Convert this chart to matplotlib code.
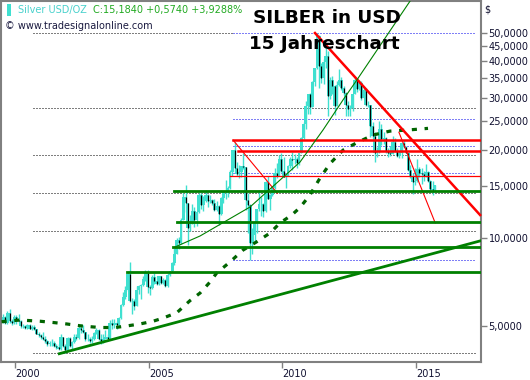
import numpy as np
import matplotlib
matplotlib.use("Agg")
import matplotlib.pyplot as plt
from matplotlib.patches import Rectangle

# ---------------- data (monthly candles, Jul 1999 .. Sep 2015) ----------------
start_year, start_month = 1999, 7
opens = [5.20,5.38,5.15,5.55,5.22,5.12,
 5.40,5.25,5.20,5.02,5.00,4.95,5.05,4.92,4.98,4.90,4.72,4.68,
 4.60,4.55,4.45,4.35,4.38,4.40,4.30,4.25,4.20,4.60,4.30,4.15,
 4.58,4.30,4.42,4.60,4.58,4.95,4.85,4.78,4.55,4.55,4.45,4.55,
 4.75,4.85,4.55,4.45,4.55,4.60,4.55,5.15,5.05,5.15,5.05,5.35,
 5.90,6.30,6.65,7.55,6.10,6.10,5.85,6.65,6.85,6.90,7.25,7.60,
 6.80,6.75,7.35,7.15,6.95,7.40,7.05,7.20,6.85,7.50,7.70,8.20,
 8.85,9.85,9.60,11.55,13.80,13.15,10.85,11.20,12.40,11.50,12.25,13.95,
 12.90,13.40,14.05,13.40,13.45,13.15,12.45,12.80,12.10,13.70,14.30,14.35,
 14.80,16.80,19.90,17.25,16.50,16.80,17.55,17.40,13.45,12.95,9.60,10.20,
 11.30,12.55,13.05,13.10,12.40,15.55,13.60,13.95,14.85,16.65,16.30,18.55,
 16.95,16.15,16.30,17.55,18.60,18.40,18.60,17.95,19.45,21.85,24.35,28.05,
 30.85,27.95,33.95,37.85,48.60,38.45,35.10,39.60,41.50,30.40,34.50,32.80,
 28.18,33.25,34.60,32.40,31.20,28.35,27.40,27.70,30.95,34.60,32.20,33.60,
 29.95,31.80,28.35,28.30,24.00,22.25,19.45,19.70,23.50,21.70,21.90,19.80,
 19.40,19.30,21.25,19.80,19.00,19.40,21.00,20.40,19.45,17.05,16.20,15.50,
 15.65,17.20,16.60,16.55,16.30,16.75,15.60,14.70,14.60]
highs = [5.50,5.42,5.65,5.75,5.32,5.45,
 5.45,5.50,5.25,5.10,5.05,5.10,5.10,5.05,5.05,4.92,4.80,4.70,
 4.80,4.65,4.50,4.45,4.55,4.45,4.35,4.35,4.70,4.62,4.35,4.62,
 4.62,4.48,4.70,4.70,5.00,5.10,5.05,4.80,4.70,4.60,4.65,4.80,
 4.95,4.90,4.70,4.70,4.85,4.70,5.25,5.30,5.30,5.20,5.40,5.95,
 6.55,6.85,7.70,8.30,6.25,6.20,6.85,6.90,6.95,7.40,7.80,7.80,
 6.90,7.50,7.60,7.40,7.40,7.45,7.30,7.25,7.60,7.75,8.30,9.25,
 10.00,10.10,11.70,14.20,15.20,13.20,11.95,13.10,12.75,12.35,14.20,14.25,
 13.90,14.60,14.10,14.05,13.60,13.60,13.40,12.90,13.80,14.50,15.80,15.00,
 17.00,20.00,21.25,18.20,17.70,17.60,19.45,17.50,14.20,13.05,10.80,11.35,
 12.55,14.60,13.80,13.20,15.60,16.20,14.10,15.00,17.30,18.00,19.15,19.40,
 18.85,16.60,17.70,18.85,19.60,19.30,18.90,19.45,22.10,24.85,29.30,31.00,
 31.20,34.30,38.00,49.80,49.00,39.40,40.75,44.25,43.25,35.40,35.70,33.10,
 34.10,37.45,35.40,33.00,31.40,29.30,28.40,31.00,35.40,35.00,34.60,34.20,
 32.45,32.40,29.20,28.40,24.90,23.00,20.40,25.10,24.50,22.90,22.00,20.30,
 20.50,22.20,21.90,20.30,19.80,21.20,21.60,20.50,19.50,17.70,16.70,17.30,
 18.50,17.50,17.30,16.90,17.80,16.85,15.70,15.60,15.20]
lows = [5.15,5.10,5.10,5.15,5.05,5.10,
 5.10,5.15,4.95,4.95,4.90,4.90,4.90,4.85,4.85,4.70,4.60,4.55,
 4.50,4.40,4.30,4.30,4.30,4.25,4.20,4.15,4.15,4.25,4.05,4.15,
 4.25,4.20,4.40,4.50,4.55,4.75,4.75,4.45,4.45,4.40,4.40,4.50,
 4.70,4.50,4.35,4.40,4.55,4.50,4.55,4.90,4.95,4.90,5.00,5.30,
 5.85,6.20,6.60,6.05,5.50,5.70,5.85,6.45,6.20,6.85,7.15,6.50,
 6.40,6.70,7.00,6.90,6.90,6.95,6.95,6.80,6.80,7.40,7.65,8.10,
 8.80,9.20,9.55,11.50,12.30,9.50,10.60,11.15,10.90,11.00,12.20,12.55,
 12.35,13.30,12.70,13.20,12.90,12.40,12.40,11.10,12.00,13.20,13.60,13.80,
 14.70,16.30,16.80,16.30,16.05,16.10,17.20,12.50,10.40,8.40,8.80,9.60,
 10.40,12.40,11.90,11.75,12.30,13.60,12.45,13.90,14.70,16.00,16.20,16.80,
 16.10,14.80,16.25,17.35,17.05,17.90,17.35,17.70,19.40,21.70,23.50,26.40,
 26.40,27.80,33.00,37.70,32.30,33.70,33.40,37.90,26.10,29.60,30.90,26.20,
 28.10,32.90,31.90,30.60,26.10,26.10,26.10,27.00,30.90,31.50,31.80,29.50,
 29.90,28.20,28.00,22.00,21.80,18.20,18.80,19.50,20.70,20.80,19.40,18.80,
 19.00,19.25,19.60,18.90,18.70,18.70,20.30,19.40,16.95,15.95,14.15,15.20,
 15.50,16.10,15.30,15.60,16.10,15.50,14.30,13.95,14.40]
closes = opens[1:] + [15.18]

# moving average (dashed)
ma_years = [1999.49,2000.18,2000.93,2001.41,2001.93,2002.49,2003.17,2003.74,2004.17,
            2004.67,2005.16,2005.53,2006.05,2006.54,2006.92,2007.29,2007.54,2008.04,
            2008.53,2009.04,2009.54,2009.91,2010.35,2010.66,2011.03,2011.41,2011.78,
            2012.27,2012.79,2013.39,2014.03,2014.70,2015.45]
ma_vals = [5.19,5.26,5.21,5.16,5.10,5.02,4.96,4.96,5.02,5.10,5.21,5.34,5.57,6.12,6.50,
           7.08,7.60,8.29,9.10,9.71,10.40,11.25,11.97,12.70,14.0,16.0,17.9,19.9,21.1,
           22.4,23.1,23.3,23.6]

# horizontal levels
black_dotted = [49.8, 27.7, 19.15, 14.2, 10.56, 4.06]
black_dotted_end = [2008.16, 2017.2, 2017.2, 2017.2, 2017.2, 2017.2]
blue_dotted = [49.8, 25.4, 20.6, 16.6, 8.42]
red_levels = [21.5, 19.7, 16.3]
red_level_start = [2008.16, 2008.33, 2008.04]
red_level_width = [2.0, 2.0, 1.0]
green_levels = [14.45, 11.36, 9.34, 7.68]
green_level_start = [2005.95, 2006.04, 2005.92, 2004.18]

# trend lines
red_trend_thick = (2011.22, 49.8, 2017.40, 11.97)
red_trend_thin = [(2008.16, 21.5, 2009.81, 14.2), (2014.36, 22.9, 2015.72, 11.25)]
green_trend_thick = (2001.65, 4.04, 2017.43, 9.79)
green_thin_years = [2005.98, 2006.92, 2008.79, 2010.66, 2011.52, 2012.27, 2012.79, 2014.78]
green_thin_vals = [9.32, 10.16, 12.75, 18.13, 23.3, 29.5, 34.5, 64.0]

yticks = [5, 10, 15, 20, 25, 30, 35, 40, 45, 50]
xticks = [2000, 2005, 2010, 2015]

# ---------------- drawing ----------------
W, H = 530, 380
fig = plt.figure(figsize=(W / 100, H / 100), dpi=100)
ax = fig.add_axes([1 / W, 18 / H, 480 / W, 361 / H])
ax.set_yscale('log')
ax.set_xlim(1999.469, 2017.433)
ax.set_ylim(3.786, 64.0)

TURQ = '#40E0D0'
n = len(closes)
dates = [start_year + (start_month - 1 + i + 0.5) / 12.0 for i in range(n)]
bw = 0.105
for d, o, h, l, c in zip(dates, opens, highs, lows, closes):
    ax.plot([d, d], [l, h], color=TURQ, lw=1.0, solid_capstyle='butt', zorder=2)
    lo, hi = min(o, c), max(o, c)
    ax.add_patch(Rectangle((d - bw / 2, lo), bw, hi - lo, facecolor=TURQ,
                           edgecolor='none', zorder=2))
    if c < o:
        ax.plot([d, d], [c, o], color='black', lw=0.85, solid_capstyle='butt', zorder=3)

# dotted levels
for v, xe in zip(black_dotted, black_dotted_end):
    ax.plot([2000.67, xe], [v, v], color='black', lw=0.72, dashes=(1, 2), zorder=1)
for v in blue_dotted:
    ax.plot([2008.16, 2017.2], [v, v], color='#0000EE', lw=0.72, dashes=(1, 2), zorder=1)

# moving average
ax.plot(ma_years, ma_vals, color='#006400', lw=2.3, dashes=(1.6, 2.4), zorder=4)

# red levels and trends
for v, xs, w in zip(red_levels, red_level_start, red_level_width):
    ax.plot([xs, 2017.43], [v, v], color='#FF0000', lw=w * 0.9, zorder=5)
x0, y0, x1, y1 = red_trend_thick
ax.plot([x0, x1], [y0, y1], color='#FF0000', lw=1.8, zorder=5, clip_on=False)
for x0, y0, x1, y1 in red_trend_thin:
    ax.plot([x0, x1], [y0, y1], color='#FF0000', lw=0.8, zorder=5)

# green levels and trends
for v, xs in zip(green_levels, green_level_start):
    ax.plot([xs, 2017.43], [v, v], color='#008000', lw=2.0, zorder=5)
x0, y0, x1, y1 = green_trend_thick
ax.plot([x0, x1], [y0, y1], color='#008000', lw=2.0, zorder=5)
ax.plot(green_thin_years, green_thin_vals, color='#008000', lw=0.8, zorder=5)

# axes styling
for s in ax.spines.values():
    s.set_color('#808080')
    s.set_linewidth(1.5)
ax.yaxis.tick_right()
ax.set_yticks(yticks)
ax.set_yticklabels([f"{v},0000" for v in yticks])
ax.yaxis.set_minor_locator(matplotlib.ticker.NullLocator())
ax.set_xticks(xticks)
ax.set_xticklabels([str(x) for x in xticks], ha='left')
ax.tick_params(axis='both', which='major', length=4, width=1, color='#808080',
               labelsize=7, labelcolor='#101030', pad=1.5)
ax.tick_params(axis='x', pad=1)

# texts
fig.text(484 / W, 1 - 10 / H, '$', fontsize=7, color='#101030', va='center')
fig.text(18 / W, 1 - 10 / H, 'Silver USD/OZ', fontsize=7, color='#48D1CC', va='center')
fig.text(93 / W, 1 - 10 / H, 'C:15,1840 +0,5740 +3,9288%', fontsize=7, color='#22AA22', va='center')
fig.text(5 / W, 1 - 26 / H, '\u00a9 www.tradesignalonline.com', fontsize=7, color='#1a1a40', va='center')
fig.patches.append(Rectangle((7 / W, 1 - 16 / H), 4 / W, 12 / H, transform=fig.transFigure,
                             facecolor=TURQ, edgecolor='none'))
fig.text(327 / W, 1 - 18 / H, 'SILBER in USD', fontsize=13.2, fontweight='bold',
         color='black', ha='center', va='center')
fig.text(324 / W, 1 - 44 / H, '15 Jahreschart', fontsize=13.2, fontweight='bold',
         color='black', ha='center', va='center')

fig.savefig('out.png', dpi=100)
